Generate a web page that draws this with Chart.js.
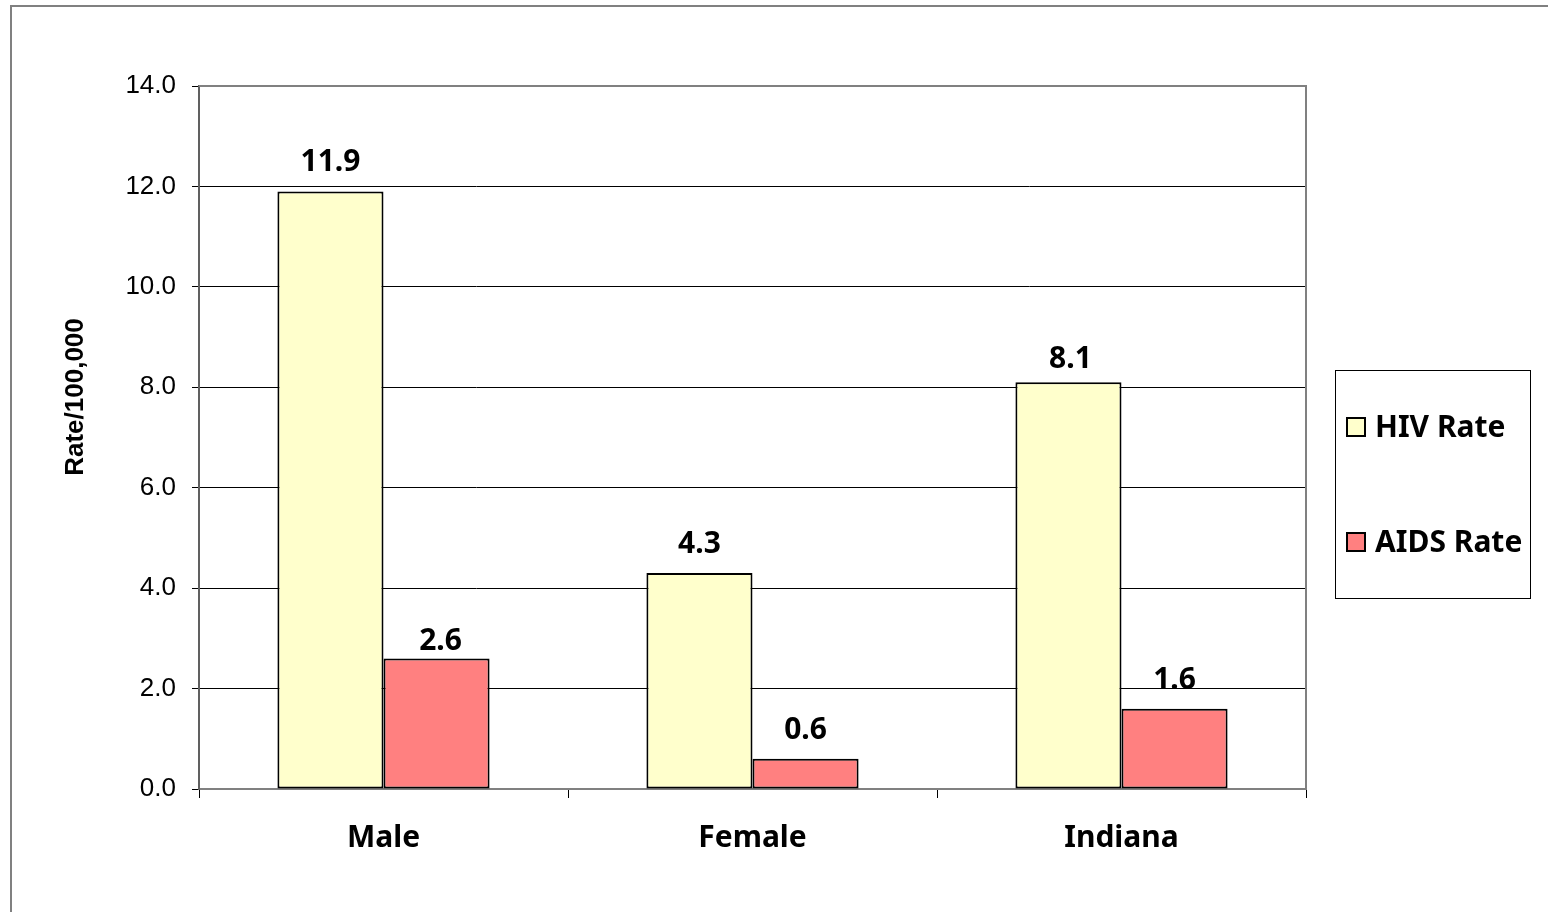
<!DOCTYPE html>
<html>
<head>
<meta charset="utf-8">
<title>HIV and AIDS Rate</title>
<script src="https://cdn.jsdelivr.net/npm/chart.js@4.4.1/dist/chart.umd.min.js"></script>
<style>
    html, body { margin: 0; padding: 0; background: #fff; overflow: hidden; }
    #frame {
        position: absolute; left: 10px; top: 5px;
        width: 1600px; height: 1000px;
        border: 2px solid #808080; box-sizing: border-box;
    }
    #chart { position: absolute; left: 0; top: 0; }
</style>
</head>
<body>
<div id="frame"></div>
<canvas id="chart" width="1548" height="912"></canvas>
<script>
const categories = ['Male', 'Female', 'Indiana'];
const hivRate = [11.9, 4.3, 8.1];
const aidsRate = [2.6, 0.6, 1.6];
const seriesNames = ['HIV Rate', 'AIDS Rate'];
const seriesColors = ['#FFFFCC', '#FF8080'];
const yTitle = 'Rate/100,000';

const boldFont = 'bold 30px "Noto Sans"';

// a couple of value labels sit a little lower in the original
function labelNudge(ds, idx) {
    if (ds === 1 && idx === 0) return { dx: 4, dy: 12 };
    if (ds === 0 && idx === 2) return { dx: 2, dy: 6 };
    return { dx: 0, dy: 0 };
}

// plot frame, value labels, axis title and legend box
const extras = {
    id: 'extras',
    beforeDatasetsDraw(chart) {
        const { ctx, chartArea: a } = chart;
        ctx.save();
        ctx.strokeStyle = '#808080';
        ctx.lineWidth = 2;
        ctx.beginPath();
        ctx.moveTo(a.left, a.top);
        ctx.lineTo(a.right, a.top);
        ctx.lineTo(a.right, a.bottom);
        ctx.stroke();
        ctx.restore();
    },
    afterDatasetsDraw(chart) {
        const { ctx } = chart;
        ctx.save();
        ctx.font = boldFont;
        ctx.fillStyle = '#000';
        ctx.textAlign = 'center';
        ctx.textBaseline = 'alphabetic';
        chart.data.datasets.forEach((ds, i) => {
            chart.getDatasetMeta(i).data.forEach((bar, j) => {
                const n = labelNudge(i, j);
                ctx.fillText(ds.data[j].toFixed(1), bar.x + n.dx, bar.y - 20 + n.dy);
            });
        });

        // y axis title
        ctx.font = 'bold 26px "Liberation Sans", Arial';
        ctx.translate(83, 397);
        ctx.rotate(-Math.PI / 2);
        ctx.fillText(yTitle, 0, 0);
        ctx.restore();

        // legend
        ctx.save();
        ctx.strokeStyle = '#000';
        ctx.lineWidth = 1;
        ctx.strokeRect(1335.5, 370.5, 195, 228);
        ctx.font = boldFont;
        ctx.textAlign = 'left';
        ctx.textBaseline = 'alphabetic';
        const rows = [437, 552];
        chart.data.datasets.forEach((ds, i) => {
            const y = rows[i];
            ctx.fillStyle = ds.backgroundColor;
            ctx.fillRect(1347, y - 19, 18, 18);
            ctx.lineWidth = 2;
            ctx.strokeRect(1347, y - 19, 18, 18);
            ctx.fillStyle = '#000';
            ctx.fillText(ds.label, 1375, y);
        });
        ctx.restore();
    }
};

new Chart(document.getElementById('chart'), {
    type: 'bar',
    data: {
        labels: categories,
        datasets: [
            { label: seriesNames[0], data: hivRate, backgroundColor: seriesColors[0] },
            { label: seriesNames[1], data: aidsRate, backgroundColor: seriesColors[1] }
        ]
    },
    options: {
        responsive: false,
        animation: false,
        devicePixelRatio: 1,
        layout: { padding: { top: 86, right: 242, left: 0, bottom: 0 } },
        datasets: {
            bar: {
                borderColor: '#000',
                borderWidth: 2,
                borderSkipped: false,
                categoryPercentage: 0.575,
                barPercentage: 1
            }
        },
        plugins: {
            legend: { display: false },
            tooltip: { enabled: false }
        },
        scales: {
            x: {
                afterFit(scale) { scale.height = 123; },
                grid: {
                    display: true,
                    offset: true,
                    drawOnChartArea: false,
                    drawTicks: true,
                    tickLength: 9,
                    tickColor: '#000',
                    tickWidth: 1
                },
                border: { color: '#808080', width: 2 },
                ticks: {
                    color: '#000',
                    font: { family: 'Noto Sans', size: 30, weight: 'bold' },
                    padding: 22
                }
            },
            y: {
                min: 0,
                max: 14,
                afterFit(scale) { scale.width = 199; },
                grid: {
                    color: '#000',
                    lineWidth: 1,
                    tickLength: 7,
                    tickColor: '#000'
                },
                border: { color: '#606060', width: 2 },
                ticks: {
                    stepSize: 2,
                    color: '#000',
                    padding: 16,
                    font: { family: 'Liberation Sans', size: 26 },
                    callback: v => v.toFixed(1)
                }
            }
        }
    },
    plugins: [extras]
});
</script>
</body>
</html>
